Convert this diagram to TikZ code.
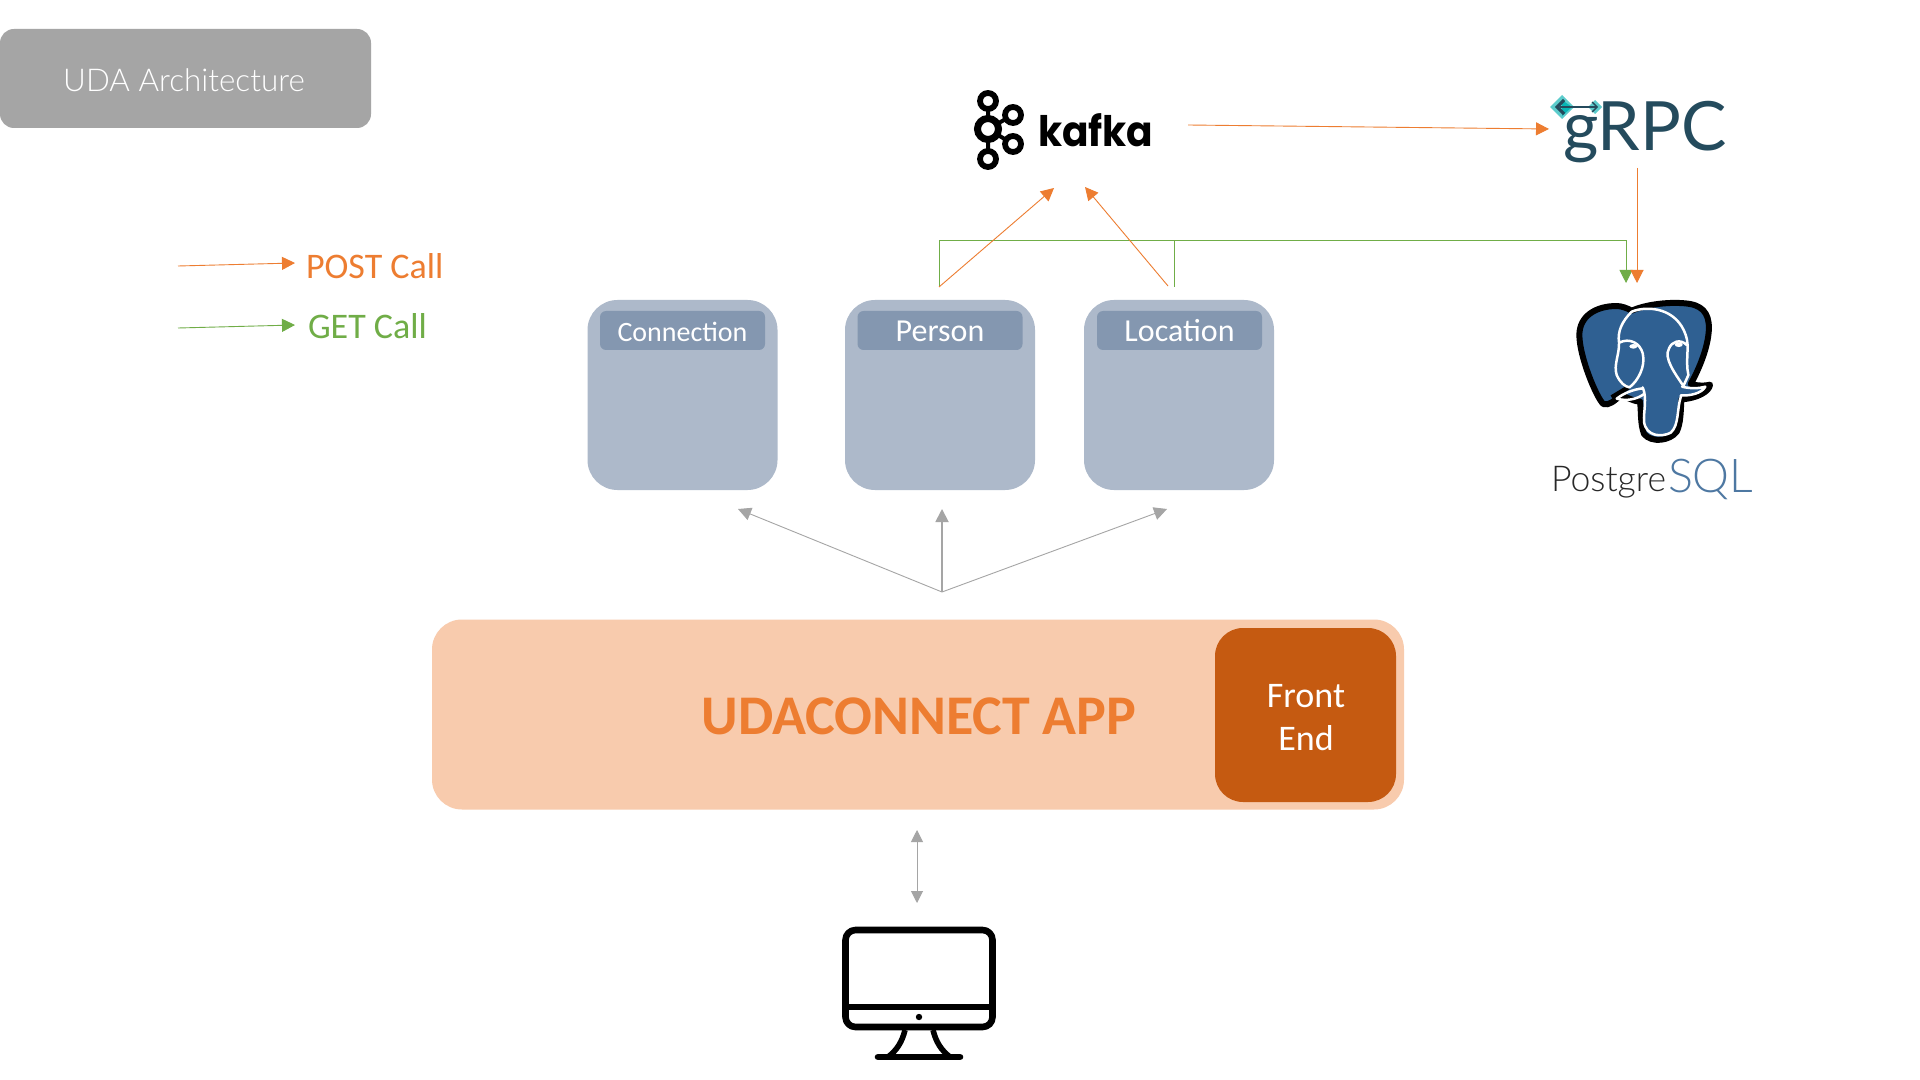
\documentclass[tikz,border=0pt]{standalone}
\usepackage{fontspec}
\setmainfont{Carlito}
\newfontfamily\lightfont{Lato Light}
\newfontfamily\grpcfont{Lato}
\newfontfamily\kafkafont[FakeStretch=0.93]{Poppins}
\usetikzlibrary{arrows.meta}
\definecolor{orangeC}{HTML}{ED7D31}
\definecolor{greenC}{HTML}{70AD47}
\definecolor{grayC}{HTML}{A5A5A5}
\definecolor{svcC}{HTML}{ADB9CA}
\definecolor{headC}{HTML}{8497B0}
\definecolor{appC}{HTML}{F8CBAD}
\definecolor{feC}{HTML}{C55A11}
\definecolor{grpcC}{HTML}{244B5D}
\definecolor{tealC}{HTML}{5CCCCC}
\definecolor{tealD}{HTML}{08B5B5}
\definecolor{pgC}{HTML}{2F6092}
\newcommand{\fs}[1]{\fontsize{#1}{#1}\selectfont}
\tikzset{
  x=0.5pt,y=-0.5pt,
  tipA/.style={-{Triangle[length=6.5pt,width=6.5pt]}},
  wire/.style={line width=0.45pt},
  post/.style={wire,draw=orangeC,tipA},
  getc/.style={wire,draw=greenC},
  gray arrow/.style={wire,draw=grayC,tipA},
  svc/.style={fill=svcC,rounded corners=15pt,minimum width=95pt,minimum height=95pt,inner sep=0,outer sep=0},
  hdr/.style={fill=headC,rounded corners=3pt,minimum width=82.5pt,minimum height=19.5pt,inner sep=0,text=white,outer sep=0,text height=11pt,text depth=0pt},
  lbl/.style={inner sep=0,outer sep=0},
  ring/.style={draw=black,line width=2.9pt,fill=none},
  mon/.style={draw=black,line width=3.3pt,line cap=round,line join=round},
  pgline/.style={white,line width=1.25pt,line join=round,line cap=round},
}
\begin{document}
\begin{tikzpicture}
\useasboundingbox (0,0) rectangle (1920,1080);
\fill[white] (0,0) rectangle (1920,1080);

% title
\node[fill=grayC,rounded corners=7pt,minimum width=185.5pt,minimum height=49.5pt,inner sep=0,text=white] (title) at (185.5,78.5) {};
\node[lbl,text=white,font=\lightfont\fs{15.7}] (titlel) at (184,80) {UDA Architecture};

% legend
\coordinate (p1) at (178,266); \coordinate (p2) at (295,263);
\coordinate (g1) at (178,328); \coordinate (g2) at (295,325);
\draw[post] (p1) -- (p2);
\draw[getc,tipA] (g1) -- (g2);
\node[lbl,anchor=base west,text=orangeC,font=\fs{18}] (postl) at (306,279) {POST Call};
\node[lbl,anchor=base west,text=greenC,font=\fs{18}] (getl) at (308,339) {GET Call};

% services
\node[svc] (conn) at (682.5,395) {};
\node[svc] (pers) at (940,395) {};
\node[svc] (loc) at (1179,395) {};
\node[hdr,font=\fs{14}] (connh) at (682.5,330.5) {Connection};
\node[hdr,font=\fs{16}] (persh) at (940,330.5) {Person};
\node[hdr,font=\fs{16}] (loch) at (1179.5,330.5) {Location};

% app
\node[fill=appC,rounded corners=15pt,minimum width=486pt,minimum height=95pt,inner sep=0] (app) at (918,714.5) {};
\node[lbl,text=orangeC,font=\bfseries\fs{28}] (appl) at (919,716) {UDACONNECT APP};
\node[fill=feC,rounded corners=14pt,minimum width=90.5pt,minimum height=87pt,inner sep=0] (fe) at (1305.5,715) {};
\node[lbl,text=white,font=\fs{18}] (fel1) at (1306,696) {Front};
\node[lbl,text=white,font=\fs{18}] (fel2) at (1306,738) {End};

% gray arrows
\coordinate (o) at (942,592);
\coordinate (ta) at (738,509); \coordinate (tb) at (942,509); \coordinate (tc) at (1167,509);
\draw[gray arrow] (o) -- (ta);
\draw[gray arrow,line width=0.9pt] (o) -- (tb);
\draw[gray arrow] (o) -- (tc);
\coordinate (u1) at (917,830); \coordinate (u2) at (917,903);
\draw[wire,draw=grayC,{Triangle[length=6pt,width=6pt]}-{Triangle[length=6pt,width=6pt]}] (u1) -- (u2);

% green
\coordinate (gl) at (939,287); \coordinate (gr) at (1174,287);
\coordinate (gt) at (1626,283);
\draw[getc,tipA] (gl) |- (gt |- 0,240) -- (gt);
\draw[getc] (gr) -- (gr |- 0,240);

% orange
\coordinate (ka) at (1054,188); \coordinate (kb) at (1085,187);
\draw[post] (gl) -- (ka);
\coordinate (lo) at (1168,286);
\draw[post] (lo) -- (kb);
\coordinate (k1) at (1188,125); \coordinate (g1r) at (1549,129);
\draw[post] (k1) -- (g1r);
\coordinate (g2a) at (1637,168); \coordinate (g2b) at (1637,283);
\draw[post] (g2a) -- (g2b);

% kafka
\draw[line width=2pt] (988,101) -- (988,159) (988,129) -- (1013,115) (988,129) -- (1013,144);
\foreach \c in {(988,101),(1013,115),(1013,144),(988,159)} \draw[ring,fill=white] \c circle (8);
\draw[draw=black,line width=3.5pt,fill=white] (988,129) circle (10.5);
\node[lbl,anchor=base west,font=\kafkafont\bfseries\fs{21}] (kafka) at (1038,146.5) {kafka};

% grpc
\node[lbl,anchor=base west,text=grpcC,font=\grpcfont\fs{34}] (grpc) at (1563,151) {gRPC};
\fill[tealC] (1550,107) -- (1562,95) -- (1574,107) -- (1562,119) -- cycle;
\fill[tealD] (1562,100) -- (1572,107) -- (1562,116) -- cycle;
\fill[tealC] (1588,107) -- (1595,100) -- (1602,107) -- (1595,114) -- cycle;
\draw[grpcC,line width=0.7pt] (1560,107) -- (1597,107);
\draw[grpcC,line width=1.6pt] (1564,100) -- (1557,107) -- (1564,114);
\draw[grpcC,line width=0.7pt] (1592,102) -- (1597,107) -- (1592,112);

% postgres elephant
\begin{scope}[shift={(1520,280)},x=0.1667pt,y=-0.1667pt]
\draw[draw=black,line width=3pt,line join=round,fill=pgC]
 (178,165) .. controls (178,110) and (225,78) .. (290,78)
 .. controls (305,78) and (322,85) .. (335,92)
 .. controls (390,68) and (470,65) .. (510,72)
 .. controls (555,80) and (572,110) .. (565,165)
 .. controls (558,220) and (530,280) .. (512,312)
 .. controls (535,318) and (555,318) .. (570,314)
 .. controls (568,335) and (530,355) .. (484,358)
 .. controls (482,395) and (482,430) .. (470,455)
 .. controls (450,482) and (395,490) .. (372,462)
 .. controls (360,430) and (364,395) .. (360,365)
 .. controls (345,365) and (320,352) .. (302,345)
 .. controls (285,362) and (265,378) .. (250,372)
 .. controls (230,355) and (178,230) .. (178,165) -- cycle;
\draw[black,line width=2.3pt] (275,352) -- (325,322);
\draw[pgline]
 (335,95) .. controls (305,125) and (292,155) .. (297,188)
 .. controls (298,225) and (280,255) .. (290,285)
 .. controls (300,308) and (315,320) .. (328,322)
 .. controls (352,305) and (378,260) .. (368,220)
 .. controls (360,190) and (330,172) .. (297,188);
\draw[pgline]
 (335,95) .. controls (385,75) and (470,85) .. (497,165)
 .. controls (510,200) and (495,240) .. (505,285)
 -- (490,318)
 .. controls (465,280) and (430,235) .. (447,205)
 .. controls (455,185) and (480,175) .. (500,195);
\draw[pgline]
 (368,322) .. controls (382,355) and (370,395) .. (372,425)
 .. controls (378,470) and (425,472) .. (452,458)
 .. controls (478,435) and (470,385) .. (483,348);
\draw[pgline]
 (486,320) .. controls (510,326) and (535,326) .. (556,320)
 .. controls (545,340) and (510,348) .. (482,346);
\draw[pgline]
 (368,325) .. controls (340,328) and (310,340) .. (290,356)
 .. controls (320,364) and (350,358) .. (372,342);
\fill[white] (340,199) ellipse (12 and 7);
\fill[white] (476,194) ellipse (12 and 7);
\end{scope}
\node[lbl,anchor=base west,text={rgb,255:red,40;green,40;blue,40},font=\lightfont\fs{17.8}] (pg1) at (1551,491) {Postgre};
\node[lbl,anchor=base west,text=pgC!85!white,font=\lightfont\fs{23.3}] (pg2) at (1668,492) {SQL};

% monitor
\draw[mon] (855.5,930) -- (982.5,930) arc (90:0:10 and -10) -- (992.5,1017) arc (0:-90:10 and -10) -- (855.5,1027) arc (-90:-180:10 and -10) -- (845.5,940) arc (180:90:10 and -10) -- cycle;
\draw[mon,line cap=butt] (845.5,1007) -- (992.5,1007);
\fill[black] (919,1017) circle (3.2);
\draw[mon,line cap=butt,line width=2.8pt] (905,1030) .. controls (902,1042) and (897,1050) .. (888,1057);
\draw[mon,line cap=butt,line width=2.8pt] (933,1030) .. controls (936,1042) and (941,1050) .. (950,1057);
\draw[mon] (878,1057) -- (960,1057);
\end{tikzpicture}
\end{document}
